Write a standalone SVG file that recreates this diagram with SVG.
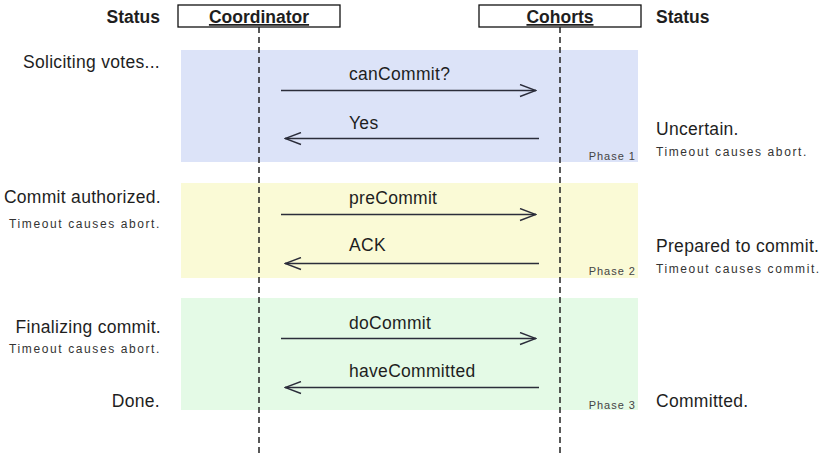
<svg xmlns="http://www.w3.org/2000/svg" width="823" height="457" viewBox="0 0 823 457">
<defs>
<style>
text{font-family:"Liberation Sans",Arial,sans-serif;fill:#1e1e1e}
.hdr{font-size:17.5px;font-weight:bold}
.ttl{font-size:17.5px;font-weight:bold;text-decoration:underline;text-anchor:middle}
.msg{font-size:17.5px;letter-spacing:0.3px}
.st{font-size:17.5px;letter-spacing:0.3px}
.sm{font-size:12px;letter-spacing:1.6px;fill:#333}
.ph{font-size:11px;letter-spacing:1px;fill:#444;text-anchor:end}
.r{text-anchor:end}
.box{fill:#fff;stroke:#111;stroke-width:1.3}
.life{stroke:#222;stroke-width:1.5;stroke-dasharray:6 4;fill:none}
.arr{stroke:#2b2d3a;stroke-width:1.4;fill:none}
</style>
<marker id="head" viewBox="0 0 18 14" refX="17" refY="7" markerWidth="18" markerHeight="14" markerUnits="userSpaceOnUse" orient="auto">
<path d="M1,1 L17,7 L1,13" fill="none" stroke="#2b2d3a" stroke-width="1.4"/>
</marker>
</defs>
<rect width="823" height="457" fill="#fff"/>
<g id="phase1"><rect x="181" y="50" width="457" height="112" fill="#dce3f8"/><text class="ph" x="636" y="160">Phase 1</text></g>
<g id="phase2"><rect x="181" y="183" width="457" height="95" fill="#fafad6"/><text class="ph" x="636" y="275">Phase 2</text></g>
<g id="phase3"><rect x="181" y="298" width="457" height="112" fill="#e4fae6"/><text class="ph" x="636" y="409">Phase 3</text></g>
<g id="coordinator"><rect class="box" x="178" y="5" width="162" height="22"/><text class="ttl" x="259" y="23">Coordinator</text><line class="life" x1="259" y1="27" x2="259" y2="457"/></g>
<g id="cohorts"><rect class="box" x="479" y="5" width="162" height="22"/><text class="ttl" x="560" y="23">Cohorts</text><line class="life" x1="560" y1="27" x2="560" y2="457"/></g>
<g id="status-left">
<text class="hdr r" x="160" y="23">Status</text>
<text class="st r" x="160" y="68">Soliciting votes...</text>
<text class="st r" x="161" y="203">Commit authorized.</text>
<text class="sm r" x="161" y="228">Timeout causes abort.</text>
<text class="st r" x="161" y="333">Finalizing commit.</text>
<text class="sm r" x="161" y="353">Timeout causes abort.</text>
<text class="st r" x="160" y="407">Done.</text>
</g>
<g id="status-right">
<text class="hdr" x="656" y="23">Status</text>
<text class="st" x="656" y="135">Uncertain.</text>
<text class="sm" x="656" y="156">Timeout causes abort.</text>
<text class="st" x="656" y="252">Prepared to commit.</text>
<text class="sm" x="656" y="273">Timeout causes commit.</text>
<text class="st" x="656" y="407">Committed.</text>
</g>
<g id="connectors">
<line class="arr" x1="281" y1="90.5" x2="536" y2="90.5" marker-end="url(#head)"/>
<text class="msg" x="349" y="80">canCommit?</text>
<line class="arr" x1="539" y1="138.5" x2="285" y2="138.5" marker-end="url(#head)"/>
<text class="msg" x="349" y="129">Yes</text>
<line class="arr" x1="281" y1="214.5" x2="536" y2="214.5" marker-end="url(#head)"/>
<text class="msg" x="349" y="204">preCommit</text>
<line class="arr" x1="539" y1="263.5" x2="285" y2="263.5" marker-end="url(#head)"/>
<text class="msg" x="349" y="251">ACK</text>
<line class="arr" x1="281" y1="338.5" x2="536" y2="338.5" marker-end="url(#head)"/>
<text class="msg" x="349" y="329">doCommit</text>
<line class="arr" x1="539" y1="387.5" x2="285" y2="387.5" marker-end="url(#head)"/>
<text class="msg" x="349" y="377">haveCommitted</text>
</g>
</svg>
